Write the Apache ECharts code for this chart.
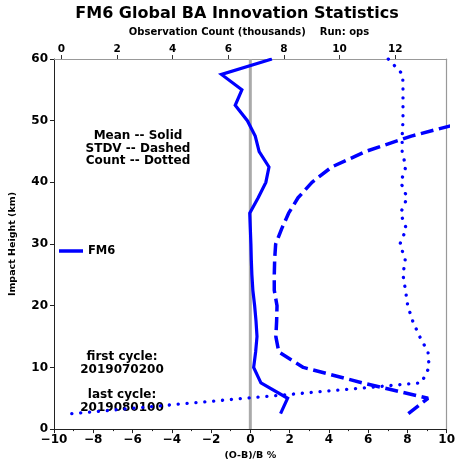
<!DOCTYPE html>
<html>
<head>
<meta charset="utf-8">
<script src="https://cdn.jsdelivr.net/npm/echarts@6/dist/echarts.min.js"></script>
<style>html,body{margin:0;padding:0;background:#fff;}#c{width:458px;height:466px;}</style>
</head>
<body>
<div id="c"></div>
<script>
// ---- data ----
var heights = [2.5,5,7.5,10,12.5,15,17.5,20,22.5,25,27.5,30,32.5,35,37.5,40,42.5,45,47.5,50,52.5,55,57.5,60];
var meanVals = [1.54,1.9,0.54,0.17,0.27,0.34,0.29,0.22,0.13,0.08,0.05,0.03,0.0,-0.03,0.4,0.79,0.95,0.45,0.25,-0.15,-0.77,-0.43,-1.47,1.1];
var stdvVals = [8.05,9.05,5.7,2.7,1.45,1.3,1.34,1.36,1.22,1.22,1.24,1.29,1.6,1.95,2.43,3.14,4.15,5.87,8.2,11.2,null,null,null,null];
var countVals = [0.37,6.6,12.94,13.22,13.18,12.88,12.63,12.45,12.37,12.28,12.36,12.17,12.4,12.19,12.43,12.2,12.38,12.25,12.25,12.28,12.28,12.28,12.27,11.75];
var countTicks = [0,2,4,6,8,10,12];
var zeroLine = [0];
var seriesName = 'FM6';

function pairs(xs) {
  var out = [];
  for (var i = 0; i < heights.length; i++) out.push([xs[i], heights[i]]);
  return out;
}

var FF = 'DejaVu Sans';
var chart = echarts.init(document.getElementById('c'), null, {renderer: 'canvas'});
var option = {
  animation: false,
  backgroundColor: '#ffffff',
  textStyle: {fontFamily: FF},
  graphic: [
    {type: 'text', x: 237, y: 6, style: {text: 'FM6 Global BA Innovation Statistics',
      align: 'center', verticalAlign: 'top', font: 'bold 16px "DejaVu Sans"', fill: '#000'}},
    {type: 'text', x: 249, y: 27, style: {text: 'Observation Count (thousands)    Run: ops',
      align: 'center', verticalAlign: 'top', font: 'bold 10px "DejaVu Sans"', fill: '#000'}},
    {type: 'text', x: 138, y: 130, style: {text: 'Mean -- Solid\nSTDV -- Dashed\nCount -- Dotted',
      align: 'center', verticalAlign: 'top', font: 'bold 12px "DejaVu Sans"', fill: '#000', lineHeight: 12.5}},
    {type: 'text', x: 122, y: 351, style: {text: 'first cycle:\n2019070200',
      align: 'center', verticalAlign: 'top', font: 'bold 12px "DejaVu Sans"', fill: '#000', lineHeight: 12.5}},
    {type: 'text', x: 122, y: 389, style: {text: 'last cycle:\n2019080100',
      align: 'center', verticalAlign: 'top', font: 'bold 12px "DejaVu Sans"', fill: '#000', lineHeight: 12.5}}
  ],
  legend: {
    data: [{name: seriesName, icon: 'rect'}], left: 54, top: 240, itemWidth: 24, itemHeight: 3.5, itemGap: 6,
    textStyle: {fontFamily: FF, fontSize: 11.5, fontWeight: 'bold', color: '#000'}
  },
  grid: {left: 50, right: 9, top: 59, bottom: 32, containLabel: false},
  xAxis: [
    {type: 'value', position: 'bottom', min: -10, max: 10, interval: 2,
     name: '(O-B)/B %', nameLocation: 'middle', nameGap: 21,
     nameTextStyle: {fontFamily: FF, fontSize: 9.5, fontWeight: 'bold', color: '#000'},
     axisLine: {show: true, onZero: false, lineStyle: {color: '#222', width: 1}},
     axisTick: {show: true, length: 4, lineStyle: {color: '#222'}},
     minorTick: {show: true, splitNumber: 2, length: 2, lineStyle: {color: '#222'}},
     splitLine: {show: false},
     axisLabel: {fontFamily: FF, fontSize: 12, fontWeight: 'bold', color: '#000', margin: 5,
       formatter: function (v) { return String(v).replace('-', '\u2212'); }}},
    {type: 'value', position: 'top', min: -0.27, max: 13.85,
     axisLine: {show: true, onZero: false, lineStyle: {color: '#999', width: 1.2}},
     axisTick: {show: true, length: 4, lineStyle: {color: '#333'}, customValues: countTicks},
     splitLine: {show: false},
     axisLabel: {fontFamily: FF, fontSize: 10.5, fontWeight: 'bold', color: '#000', margin: 4,
       customValues: countTicks}}
  ],
  yAxis: [
    {type: 'value', min: 0, max: 60, interval: 10, position: 'left',
     name: 'Impact Height (km)', nameLocation: 'middle', nameGap: 36, nameRotate: 90,
     nameTextStyle: {fontFamily: FF, fontSize: 9.5, fontWeight: 'bold', color: '#000'},
     axisLine: {show: true, onZero: false, lineStyle: {color: '#222', width: 1}},
     axisTick: {show: true, length: 4, lineStyle: {color: '#222'}},
     splitLine: {show: false},
     axisLabel: {fontFamily: FF, fontSize: 12, fontWeight: 'bold', color: '#000', margin: 6}},
    {type: 'value', position: 'right', min: 0, max: 60, interval: 10,
     axisLine: {show: true, onZero: false, lineStyle: {color: '#999', width: 1.2}},
     axisTick: {show: false}, axisLabel: {show: false}, splitLine: {show: false}}
  ],
  series: [
    {type: 'line', name: 'zero', xAxisIndex: 0, yAxisIndex: 0, z: 1, silent: true,
     symbol: 'none', data: [[zeroLine[0], 0], [zeroLine[0], 60]],
     lineStyle: {color: '#aaaaaa', width: 3}},
    {type: 'line', name: seriesName, xAxisIndex: 0, yAxisIndex: 0, z: 3,
     symbol: 'none', data: pairs(meanVals), color: '#0000ff',
     lineStyle: {color: '#0000ff', width: 3.2, join: 'miter'}},
    {type: 'line', name: 'stdv', xAxisIndex: 0, yAxisIndex: 0, z: 3,
     symbol: 'none', data: pairs(stdvVals), connectNulls: false,
     lineStyle: {color: '#0000ff', width: 3.5, type: [13, 5.6], cap: 'butt'}},
    {type: 'line', name: 'count', xAxisIndex: 1, yAxisIndex: 0, z: 3,
     symbol: 'none', data: pairs(countVals),
     lineStyle: {color: '#0000ff', width: 3.3, type: [0.1, 8.8], cap: 'round'}}
  ]
};
chart.setOption(option);
</script>
</body>
</html>
